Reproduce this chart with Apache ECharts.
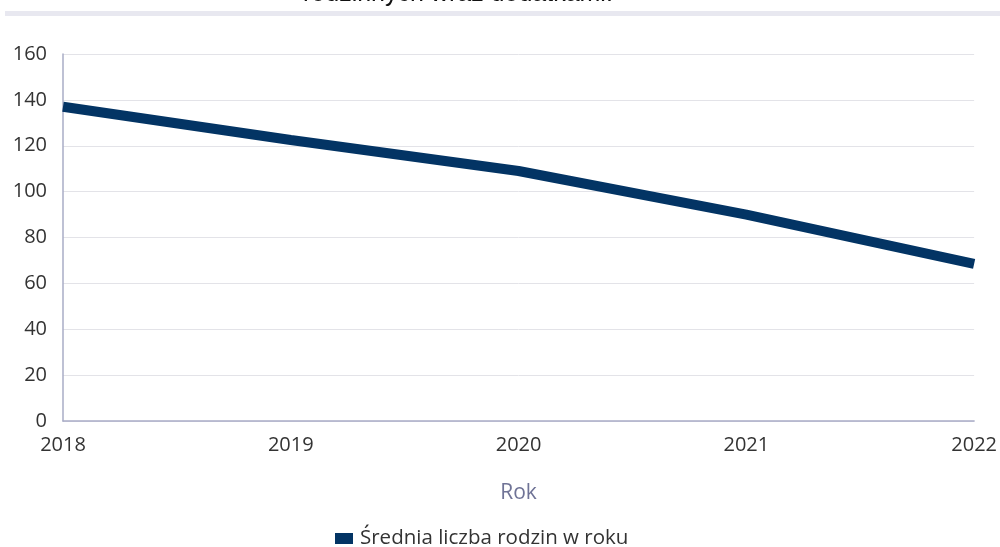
<!DOCTYPE html>
<html><head><meta charset="utf-8">
<script src="https://cdn.jsdelivr.net/npm/echarts@6/dist/echarts.min.js"></script>
<style>html,body{margin:0;padding:0;background:#fff}#c{width:1000px;height:547px}</style>
</head><body><div id="c"></div>
<script>
const years = ['2018','2019','2020','2021','2022'];
const values = [137, 122.5, 109, 90, 68.5];
const yTicks = [0,20,40,60,80,100,120,140,160];
const titleText = 'rodzinnych wraz dodatkami.';
const seriesName = 'Średnia liczba rodzin w roku';
const axisName = 'Rok';

const chart = echarts.init(document.getElementById('c'));
chart.setOption({
  animation:false,
  title:{text:titleText,left:298,top:-23,textStyle:{fontFamily:'Liberation Sans',fontSize:25,fontWeight:'normal',color:'#111'}},
  graphic:[{type:'rect',shape:{x:5,y:11,width:995,height:5},style:{fill:'#e8e8f0'}}],
  grid:{left:63,right:25,top:54,bottom:126},
  xAxis:{type:'category',data:years,boundaryGap:false,
    name:axisName,nameLocation:'middle',nameGap:62,
    nameTextStyle:{fontFamily:'Open Sans',fontSize:21,color:'#6f7396'},
    axisLine:{lineStyle:{color:'#a9acc6',width:1.5}},axisTick:{show:false},
    axisLabel:{fontFamily:'Open Sans',fontSize:20,color:'#333',margin:14},
    splitLine:{show:false}},
  yAxis:{type:'value',min:yTicks[0],max:yTicks[yTicks.length-1],interval:20,
    axisLine:{show:true,lineStyle:{color:'#a9acc6',width:1.5}},axisTick:{show:false},
    axisLabel:{fontFamily:'Open Sans',fontSize:20,color:'#333',margin:16},
    splitLine:{lineStyle:{color:'#e3e3e8',width:1}}},
  legend:{bottom:-7,left:330,itemWidth:18,itemHeight:11,itemGap:10,icon:'rect',
    textStyle:{fontFamily:'Open Sans',fontSize:20.5,color:'#333',padding:[0,0,0,2]},data:[seriesName]},
  series:[{name:seriesName,type:'line',data:values,symbol:'none',
    lineStyle:{color:'#033464',width:10},itemStyle:{color:'#033464'}}]
});
</script></body></html>
